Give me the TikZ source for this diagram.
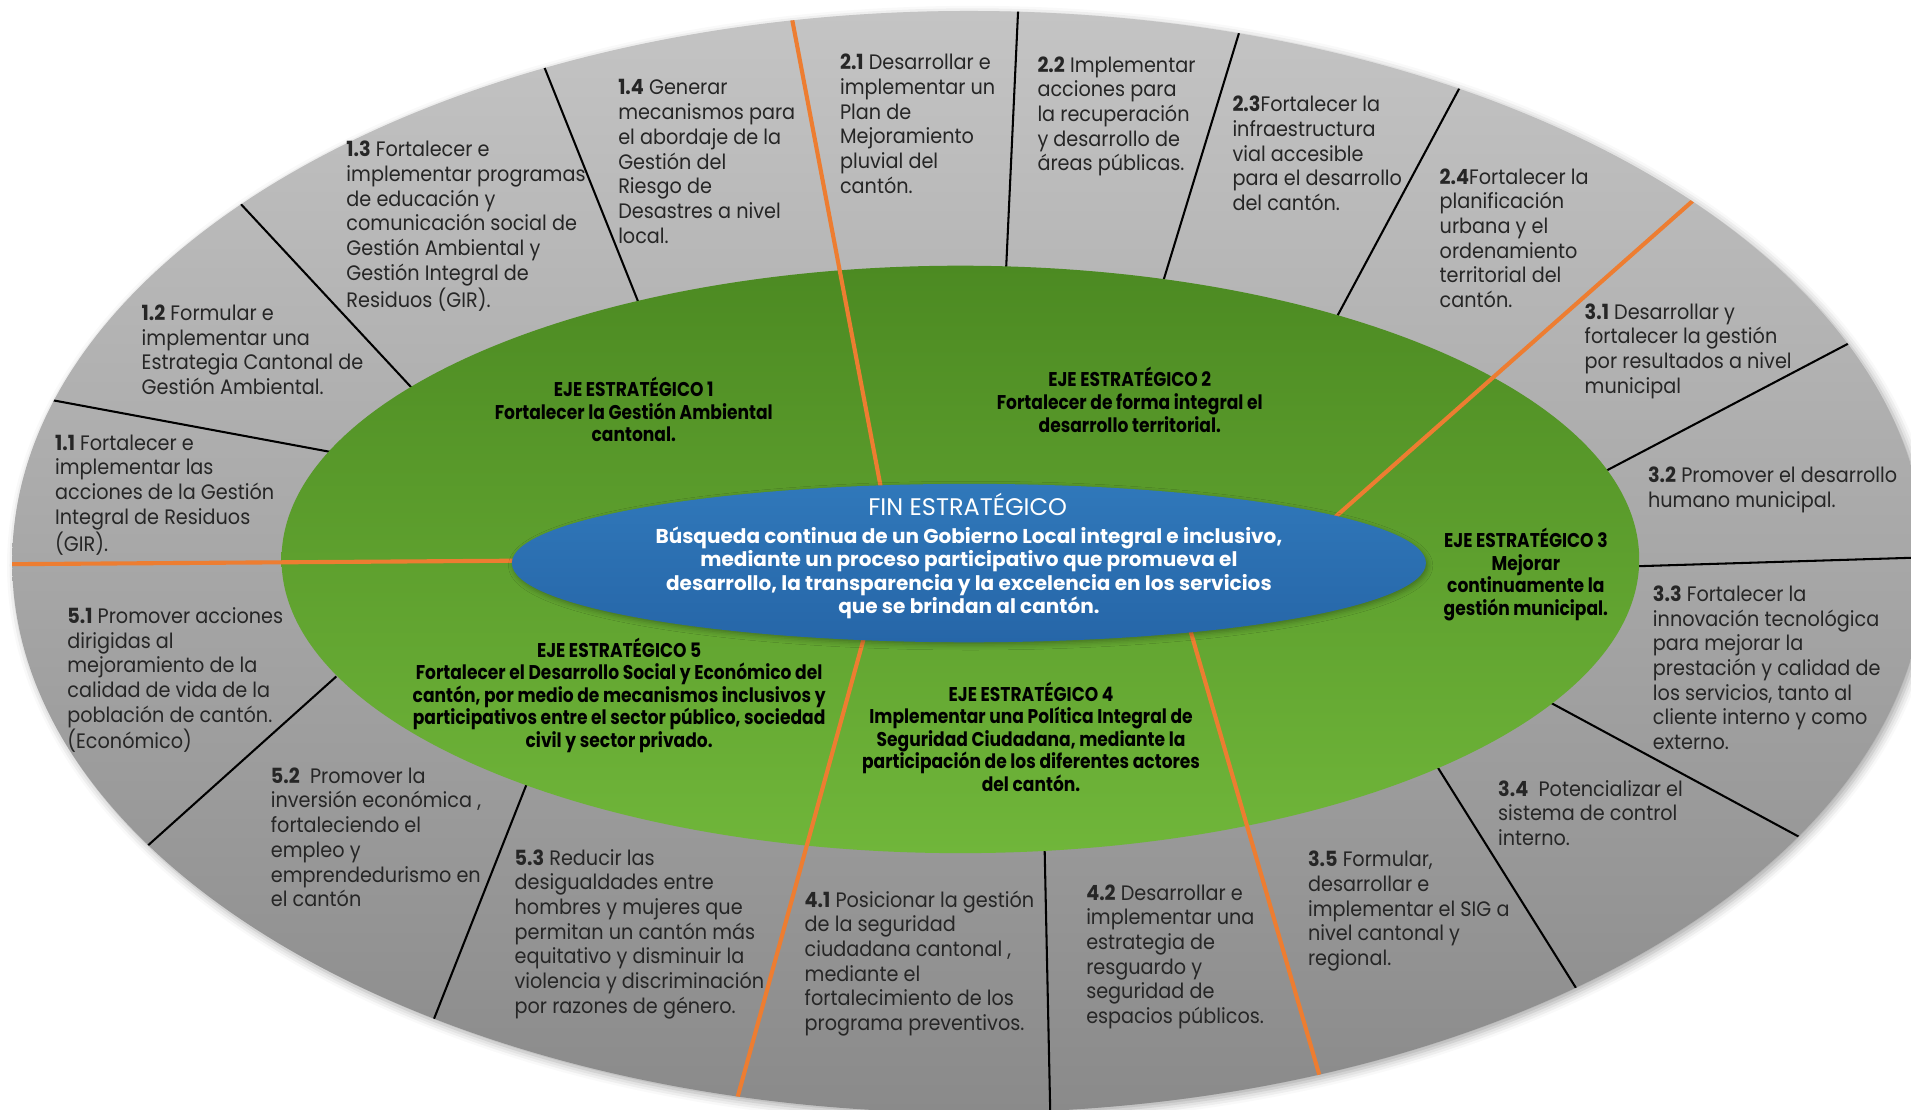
\documentclass[tikz,border=0pt]{standalone}
\usepackage{fontspec}
\setmainfont[FakeStretch=0.92]{Poppins}
\newfontfamily\ejefont[FakeStretch=0.86]{Poppins}
\newfontfamily\finfont{Poppins}
\usetikzlibrary{shadows.blur}

\definecolor{grisclaro}{RGB}{196,196,196}
\definecolor{grisoscuro}{RGB}{138,138,138}
\definecolor{verdeoscuro}{RGB}{76,138,34}
\definecolor{verdeclaro}{RGB}{112,182,58}
\definecolor{azul}{RGB}{48,120,186}
\definecolor{azuloscuro}{RGB}{38,102,168}
\definecolor{naranja}{RGB}{237,125,49}
\definecolor{texto}{RGB}{38,38,38}

\tikzset{
  accion/.style={anchor=west, inner sep=0pt, align=left, text=texto,
    font=\fontsize{12.2}{14.4}\selectfont},
  eje/.style={inner sep=0pt, align=center, text=black,
    font=\ejefont\bfseries\fontsize{11.6}{13.2}\selectfont},
  linea/.style={line width=1.2pt, black},
  lineaeje/.style={line width=2.4pt, naranja},
}

\begin{document}
\begin{tikzpicture}[x=0.025cm, y=-0.025cm]
  \useasboundingbox (0,0) rectangle (1568,910);
  \clip (0,0) rectangle (1568,910);

  % Draw the outer ring of actions
  \path[top color=grisclaro, bottom color=grisoscuro,
    blur shadow={shadow xshift=2pt, shadow yshift=-2pt, shadow blur radius=5pt, shadow opacity=35}]
    (795,461) ellipse [x radius=785, y radius=452];

  % Draw the black dividers between actions
  \begin{scope}
    \clip (795,461) ellipse [x radius=785, y radius=452];
    \draw[linea] (25,325) -- (283,373);
    \draw[linea] (187,156) -- (346,327);
    \draw[linea] (441,41) -- (529,261);
    \draw[linea] (836,-5) -- (825,232);
    \draw[linea] (1020,16) -- (951,242);
    \draw[linea] (1203,62) -- (1091,271);
    \draw[linea] (1524,278) -- (1305,393);
    \draw[linea] (1590,457) -- (1330,465);
    \draw[linea] (1262,571) -- (1488,693);
    \draw[linea] (1173,619) -- (1304,828);
    \draw[linea] (857,690) -- (862,925);
    \draw[linea] (437,631) -- (347,859);
    \draw[linea] (276,555) -- (111,703);
  \end{scope}

  % Draw the green ring of the axes
  \path[top color=verdeoscuro, bottom color=verdeclaro]
    (788,459) ellipse [x radius=557, y radius=241];

  % Draw the orange dividers between axes
  \begin{scope}
    \clip (795,461) ellipse [x radius=785, y radius=452];
    \draw[lineaeje] (-5,463) -- (430,460);
    \draw[lineaeje] (646,-5) -- (725,412);
    \draw[lineaeje] (1400,155) -- (1089,430);
    \draw[lineaeje] (974,508) -- (1095,925);
    \draw[lineaeje] (712,512) -- (597,930);
  \end{scope}

  % Draw the blue centre
  \path[top color=azul, bottom color=azuloscuro,
    blur shadow={shadow xshift=1pt, shadow yshift=-1.5pt, shadow blur radius=3pt, shadow opacity=30}]
    (795,462) ellipse [x radius=375, y radius=65];

  % Centre labels
  \node[inner sep=0pt, text=white, font=\finfont\fontsize{14}{16}\selectfont] (fin) at (794,414) {FIN ESTRATÉGICO};
  \node[inner sep=0pt, align=center, text=white, font=\finfont\bfseries\fontsize{11.7}{13.7}\selectfont] (finTexto) at (795,470)
    {Búsqueda continua de un Gobierno Local  integral e inclusivo,\\mediante un proceso participativo que promueva el\\desarrollo, la transparencia y la excelencia en los servicios\\que se brindan al cantón.};

  % Axes labels
  \node[eje] (eje1) at (520,336) {EJE ESTRATÉGICO 1\\Fortalecer la Gestión Ambiental\\cantonal.};
  \node[eje] (eje2) at (927,328) {EJE ESTRATÉGICO 2\\Fortalecer de  forma integral el\\desarrollo territorial.};
  \node[eje] (eje3) at (1252,471.5) {EJE ESTRATÉGICO 3\\Mejorar\\continuamente la\\gestión municipal.};
  \node[eje] (eje4) at (846,604.5) {EJE ESTRATÉGICO 4\\Implementar una Política Integral de\\Seguridad Ciudadana, mediante la\\participación de los diferentes actores\\del cantón.};
  \node[eje] (eje5) at (508,570.5) {EJE ESTRATÉGICO 5\\Fortalecer el Desarrollo Social y Económico del\\cantón, por medio de mecanismos inclusivos y\\participativos entre el sector público, sociedad\\civil y sector privado.};

  % Action labels
  \node[accion] (a11) at (45,406) {\textbf{1.1} Fortalecer e\\implementar las\\acciones de la Gestión\\Integral de Residuos\\(GIR).};
  \node[accion] (a12) at (116,287) {\textbf{1.2} Formular e\\implementar una\\Estrategia Cantonal de\\Gestión Ambiental.};
  \node[accion] (a13) at (284,185.5) {\textbf{1.3} Fortalecer e\\implementar programas\\de educación y\\comunicación social de\\Gestión Ambiental y\\Gestión Integral de\\Residuos (GIR).};
  \node[accion] (a14) at (507,132.5) {\textbf{1.4} Generar\\mecanismos para\\el abordaje de la\\Gestión del\\Riesgo de\\Desastres a nivel\\local.};
  \node[accion] (a21) at (689,101.5) {\textbf{2.1} Desarrollar e\\implementar un\\Plan de\\Mejoramiento\\pluvial del\\cantón.};
  \node[accion] (a22) at (851,95.5) {\textbf{2.2} Implementar\\acciones para\\la recuperación\\y desarrollo de\\áreas públicas.};
  \node[accion] (a23) at (1011,126) {\textbf{2.3}Fortalecer la\\infraestructura\\vial accesible\\para el desarrollo\\del cantón.};
  \node[accion] (a24) at (1181,195.5) {\textbf{2.4}Fortalecer la\\planificación\\urbana y el\\ordenamiento\\territorial del\\cantón.};
  \node[accion] (a31) at (1300,288) {\textbf{3.1} Desarrollar y\\fortalecer la gestión\\por resultados a nivel\\municipal};
  \node[accion] (a32) at (1352,402) {\textbf{3.2} Promover el desarrollo\\humano municipal.};
  \node[accion] (a33) at (1356,548) {\textbf{3.3} Fortalecer la\\innovación tecnológica\\para mejorar la\\prestación y calidad de\\los servicios, tanto  al\\cliente interno y como\\externo.};
  \node[accion] (a34) at (1229,667) {\textbf{3.4}\ \ Potencializar el\\sistema de control\\interno.};
  \node[accion] (a35) at (1073,747.5) {\textbf{3.5} Formular,\\desarrollar e\\implementar el SIG a\\nivel cantonal y\\regional.};
  \node[accion] (a41) at (660,790.5) {\textbf{4.1} Posicionar la gestión\\de la  seguridad\\ciudadana cantonal ,\\mediante el\\fortalecimiento de los\\programa preventivos.};
  \node[accion] (a42) at (891,785) {\textbf{4.2} Desarrollar e\\implementar una\\estrategia de\\resguardo y\\seguridad  de\\espacios públicos.};
  \node[accion] (a51) at (55,558) {\textbf{5.1} Promover acciones\\dirigidas al\\mejoramiento de la\\calidad de vida de  la\\población de cantón.\\(Económico)};
  \node[accion] (a52) at (222,687) {\textbf{5.2}\ \ Promover  la\\inversión económica ,\\fortaleciendo el\\empleo y\\emprendedurismo en\\el cantón};
  \node[accion] (a53) at (422,766.5) {\textbf{5.3} Reducir las\\desigualdades entre\\hombres y mujeres que\\permitan un cantón más\\equitativo y disminuir la\\violencia y discriminación\\por razones de género.};
\end{tikzpicture}
\end{document}
